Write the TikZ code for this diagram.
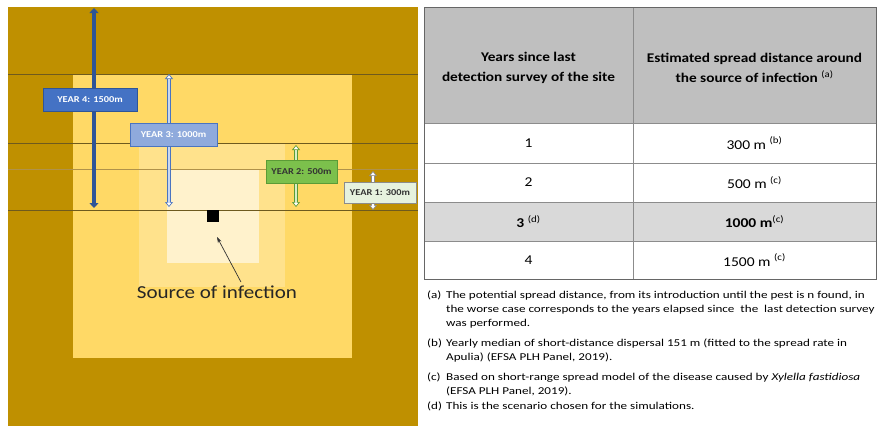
\documentclass[tikz,border=0pt]{standalone}
\usepackage{fontspec}
\setmainfont{Carlito}[FakeStretch=1.15]
\newfontfamily\notefont{Carlito}[FakeStretch=1.25]
\usepackage{xcolor}
\usetikzlibrary{arrows.meta}

\definecolor{golddark}{HTML}{BF9000}
\definecolor{goldmid}{HTML}{FFD966}
\definecolor{goldlight}{HTML}{FFE28C}
\definecolor{goldpale}{HTML}{FFF2CC}
\definecolor{bandline}{HTML}{6E5A1E}
\definecolor{bandlight}{HTML}{B0924A}
\definecolor{yrfourblue}{HTML}{2F5597}
\definecolor{yrfourbox}{HTML}{4472C4}
\definecolor{yrthreeblue}{HTML}{8FAADC}
\definecolor{yrthreeedge}{HTML}{4A74C0}
\definecolor{yrthreecore}{HTML}{C9D7F0}
\definecolor{yrtwogreen}{HTML}{7CC04C}
\definecolor{yrtwoedge}{HTML}{5B9B36}
\definecolor{yrtwocore}{HTML}{D6EEC6}
\definecolor{yronepale}{HTML}{E6F2DE}
\definecolor{yroneedge}{HTML}{8C8C8C}
\definecolor{tabhead}{HTML}{BFBFBF}
\definecolor{tabrow}{HTML}{D9D9D9}
\definecolor{tabline}{HTML}{8C8C8C}

\begin{document}
\begin{tikzpicture}[x=1pt, y=-1pt,
    yearbox/.style={draw=#1, line width=0.8pt, inner sep=0pt, minimum height=23pt,
      font=\fontsize{9}{10}\selectfont\bfseries},
    hollow/.style={draw=#1, line width=3.2pt,
      {Triangle[width=8pt,length=5pt,fill=white,line width=0.7pt]}-{Triangle[width=8pt,length=5pt,fill=white,line width=0.7pt]}},
    hollowcore/.style={draw=#1, line width=1.3pt, shorten <=4.5pt, shorten >=4.5pt},
    cell/.style={font=\fontsize{13.5}{16}\selectfont},
    head/.style={font=\fontsize{13.3}{20}\selectfont\bfseries, align=center},
    note/.style={anchor=north west, inner sep=0pt, align=left,
      font=\notefont\fontsize{10.5}{14}\selectfont}]
\useasboundingbox (0,0) rectangle (881,426);

% nested squares round the source
\fill[golddark] (8,7) rectangle (418,426);
\fill[goldmid] (73,74) rectangle (352,358);
\fill[goldlight] (139,143) rectangle (285,287);
\fill[goldpale] (167,169) rectangle (259,263);

% survey bands
\draw[bandline, line width=0.9pt] (8,74) -- (418,74);
\draw[bandline, line width=0.9pt] (8,143) -- (418,143);
\draw[bandlight, line width=0.8pt] (8,169) -- (418,169);
\draw[bandline, line width=0.9pt] (8,210) -- (418,210);

% spread arrows
\coordinate (yfourtop) at (94,8);
\coordinate (yfourbot) at (94,208);
\coordinate (ythreetop) at (169,74);
\coordinate (ythreebot) at (169,207);
\coordinate (ytwotop) at (296,145);
\coordinate (ytwobot) at (296,207);
\coordinate (yonetop) at (373,171);
\coordinate (yonebot) at (373,210);
\draw[yrfourblue, line width=4pt, {Triangle[width=9pt,length=5pt]}-{Triangle[width=9pt,length=5pt]}] (yfourtop) -- (yfourbot);
\draw[hollow=yrthreeedge] (ythreetop) -- (ythreebot);
\draw[hollowcore=yrthreecore] (ythreetop) -- (ythreebot);
\draw[hollow=yrtwoedge] (ytwotop) -- (ytwobot);
\draw[hollowcore=yrtwocore] (ytwotop) -- (ytwobot);
\draw[hollow=yroneedge] (yonetop) -- (yonebot);
\draw[hollowcore=white] (yonetop) -- (yonebot);

\node[yearbox=yrfourblue, fill=yrfourbox, text=white, minimum width=94pt] (yrfour) at (90,99.5) {YEAR 4: 1500m};
\node[yearbox=yrthreeedge, fill=yrthreeblue, text=white, minimum width=87pt] (yrthree) at (173.5,134.5) {YEAR 3: 1000m};
\node[yearbox=yrtwoedge, fill=yrtwogreen, text=black!80, minimum width=71pt] (yrtwo) at (301.5,171.5) {YEAR 2: 500m};
\node[yearbox=yroneedge, fill=yronepale, text=black!80, minimum width=72pt, minimum height=21pt] (yrone) at (380,192.5) {YEAR 1: 300m};

% source of infection
\node[fill=black, minimum size=12pt, inner sep=0pt] (source) at (213,216) {};
\node[font=\fontsize{18.3}{20}\selectfont, text=black!85] (srclabel) at (217,292) {Source of infection};
\coordinate (srctip) at (217,237);
\draw[black!80, line width=0.7pt, -{Stealth[length=6pt,width=4pt]}] (srclabel.north -| 241,283) -- (srctip);

% table
\fill[tabhead] (424,7) rectangle (876,123);
\fill[tabrow] (424,202) rectangle (876,241);
\draw[tabline, line width=0.8pt] (424,123) -- (876,123);
\draw[tabline, line width=0.8pt] (424,163) -- (876,163);
\draw[tabline, line width=0.8pt] (424,202) -- (876,202);
\draw[tabline, line width=0.8pt] (424,241) -- (876,241);
\draw[tabline, line width=0.8pt] (633,7) -- (633,279);
\draw[black!60, line width=0.9pt] (424,7) rectangle (876,279);

\node[head] (hdyears) at (528.5,68) {Years since last\\detection survey of the site};
\node[head] (hddist) at (754.5,68) {Estimated spread distance around\\the source of infection \textsuperscript{\mdseries(a)}};
\node[cell] (yrsone) at (528.5,143) {1};
\node[cell] (distone) at (754.5,143) {300 m \textsuperscript{(b)}};
\node[cell] (yrstwo) at (528.5,182.5) {2};
\node[cell] (disttwo) at (754.5,182.5) {500 m \textsuperscript{(c)}};
\node[cell] (yrsthree) at (528.5,221.5) {\textbf{3} \textsuperscript{(d)}};
\node[cell] (distthree) at (754.5,221.5) {\textbf{1000 m}\textsuperscript{(c)}};
\node[cell] (yrsfour) at (528.5,260) {4};
\node[cell] (distfour) at (754.5,260) {1500 m \textsuperscript{(c)}};

% footnotes
\node[note] (notea) at (427,291) {(a)};
\node[note] (noteatext) at (446,291) {The potential spread distance, from its introduction until the pest is n found, in\\the worse case corresponds to the years elapsed since\ \ the\ \ last detection survey\\was performed.};
\node[note] (noteb) at (427,339) {(b)};
\node[note] (notebtext) at (446,339) {Yearly median of short-distance dispersal 151 m (fitted to the spread rate in\\Apulia) (EFSA PLH Panel, 2019).};
\node[note] (notec) at (427,373) {(c)};
\node[note] (notectext) at (446,373) {Based on short-range spread model of the disease caused by \textit{Xylella fastidiosa}\\(EFSA PLH Panel, 2019).};
\node[note] (noted) at (427,402) {(d)};
\node[note] (notedtext) at (446,402) {This is the scenario chosen for the simulations.};
\end{tikzpicture}
\end{document}
